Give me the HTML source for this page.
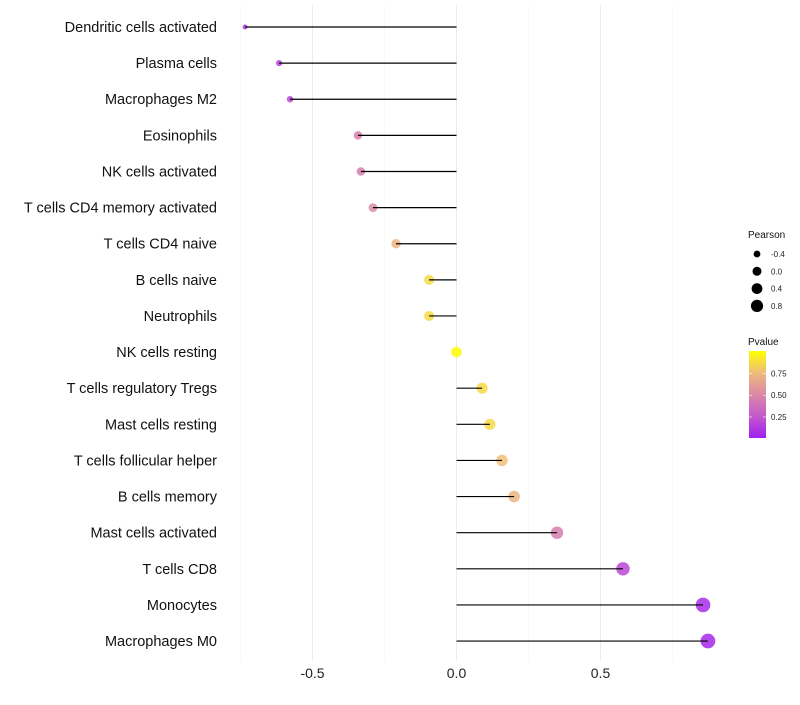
<!DOCTYPE html>
<html><head><meta charset="utf-8"><style>
html,body{margin:0;padding:0;background:#fff;}
svg text{font-family:"Liberation Sans",sans-serif;}
</style></head><body>
<svg id="chart" width="800" height="700" xmlns="http://www.w3.org/2000/svg">
<defs><linearGradient id="pg" x1="0" y1="1" x2="0" y2="0">
<stop offset="0" stop-color="#a020f0"/><stop offset="0.25" stop-color="#c458cc"/><stop offset="0.5" stop-color="#da88a6"/><stop offset="0.75" stop-color="#efbb7c"/><stop offset="1" stop-color="#ffff00"/>
</linearGradient></defs>
<g id="grid"></g>
<g id="marks"></g>
<g id="labels"></g>
<g id="xticks"></g>
<g id="legend"></g>
</svg>
<script>
const categories=["Dendritic cells activated","Plasma cells","Macrophages M2","Eosinophils","NK cells activated","T cells CD4 memory activated","T cells CD4 naive","B cells naive","Neutrophils","NK cells resting","T cells regulatory  Tregs ","Mast cells resting","T cells follicular helper","B cells memory","Mast cells activated","T cells CD8","Monocytes","Macrophages M0"];
const pearson=[-0.734,-0.616,-0.578,-0.342,-0.332,-0.29,-0.21,-0.095,-0.095,0.0,0.089,0.116,0.158,0.2,0.349,0.578,0.856,0.873];
const pvalues=[0.08,0.14,0.18,0.45,0.45,0.52,0.72,0.86,0.86,0.99,0.86,0.86,0.76,0.72,0.45,0.18,0.05,0.04];
const xTicks=[-0.5,0.0,0.5];
const xTickLabels=["-0.5","0.0","0.5"];
const xMinor=[-0.75,-0.25,0.25,0.75];
const sizeLegendVals=[-0.4,0.0,0.4,0.8];
const sizeLegendLabels=["-0.4","0.0","0.4","0.8"];
const colorLegendVals=[0.25,0.5,0.75];
const colorLegendLabels=["0.25","0.50","0.75"];

const NS="http://www.w3.org/2000/svg";
const xs=v=>456.5+v*288;
const ys=i=>27+i*36.12;
const rs=p=>Math.sqrt(Math.max(3,28+30*p));
const stops=[[0,[160,32,240]],[0.25,[196,88,204]],[0.5,[218,136,166]],[0.75,[239,187,124]],[1,[255,255,0]]];
function col(p){p=Math.max(0,Math.min(1,p));for(let k=1;k<stops.length;k++){if(p<=stops[k][0]){const a=stops[k-1],b=stops[k];const t=(p-a[0])/(b[0]-a[0]);return "rgb("+a[1].map((c,j)=>Math.round(c+(b[1][j]-c)*t)).join(",")+")";}}return "rgb(255,255,0)";}
function mk(tag,attrs,parent){const e=document.createElementNS(NS,tag);for(const k in attrs)e.setAttribute(k,attrs[k]);parent.appendChild(e);return e;}
const grid=document.getElementById('grid'),marks=document.getElementById('marks'),labels=document.getElementById('labels'),xt=document.getElementById('xticks'),lg=document.getElementById('legend');
xMinor.forEach(v=>{const l=mk('line',{x1:xs(v),x2:xs(v),y1:5,y2:660,stroke:'#f3f3f3','stroke-width':0.6},grid);

});
xTicks.forEach((v,i)=>{const l=mk('line',{x1:xs(v),x2:xs(v),y1:5,y2:660,stroke:'#ebebeb','stroke-width':1},grid);


const t=mk('text',{x:xs(v),y:678,'text-anchor':'middle','font-size':14,fill:'#222'},xt);t.textContent=xTickLabels[i];

});
categories.forEach((c,i)=>{const y=ys(i);
const t=mk('text',{x:217,y:y+5,'text-anchor':'end','font-size':14.5,fill:'#111'},labels);t.textContent=c;


const p=mk('circle',{cx:xs(pearson[i]),cy:y,r:rs(pearson[i]),fill:col(pvalues[i]),'fill-opacity':0.85},marks);


const s=mk('line',{x1:xs(0),x2:xs(pearson[i]),y1:y,y2:y,stroke:'#000','stroke-width':1.2},marks);

});
let t=mk('text',{x:748,y:238,'font-size':10,fill:'#111'},lg);t.textContent="Pearson";


sizeLegendVals.forEach((v,i)=>{const y=254+i*17.3;
const c=mk('circle',{cx:757,cy:y,r:rs(v)*0.85,fill:'#000'},lg);


const tt=mk('text',{x:771,y:y+3,'font-size':8,fill:'#222'},lg);tt.textContent=sizeLegendLabels[i];

});
t=mk('text',{x:748,y:345,'font-size':10,fill:'#111'},lg);t.textContent="Pvalue";


const bar=mk('rect',{x:749,y:351,width:17,height:87,fill:'url(#pg)'},lg);


colorLegendVals.forEach((v,i)=>{const y=438.7-v*87;
mk('line',{x1:749,x2:752,y1:y,y2:y,stroke:'#fff','stroke-width':0.6},lg);
mk('line',{x1:763,x2:766,y1:y,y2:y,stroke:'#fff','stroke-width':0.6},lg);
const tt=mk('text',{x:771,y:y+3,'font-size':8,fill:'#222'},lg);tt.textContent=colorLegendLabels[i];

});
</script>
</body></html>
